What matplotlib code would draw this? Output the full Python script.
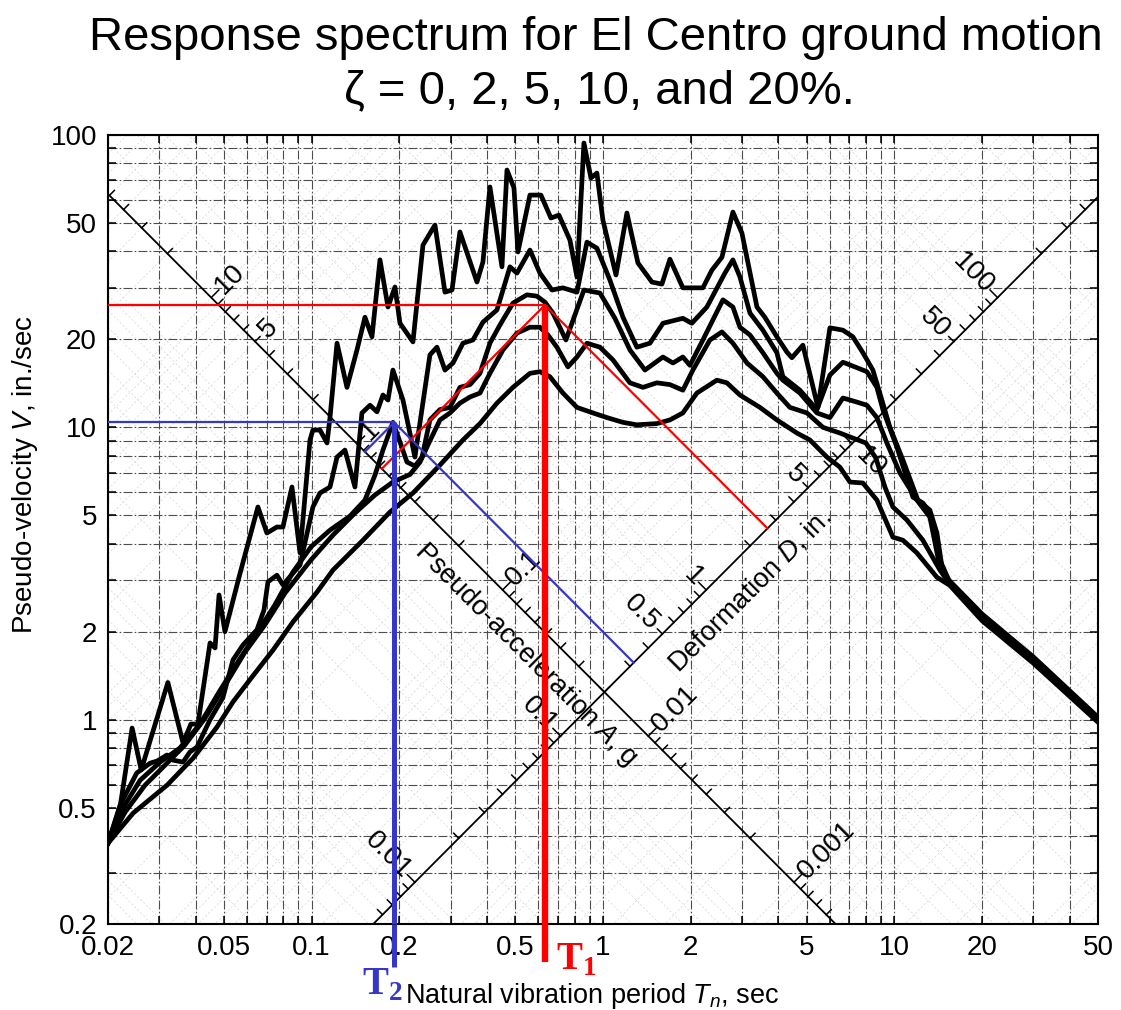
import numpy as np
import matplotlib
matplotlib.use("Agg")
import matplotlib.pyplot as plt
from matplotlib.ticker import FixedLocator, FixedFormatter, NullFormatter
from matplotlib.transforms import blended_transform_factory

plt.rcParams['font.family'] = ['Liberation Sans', 'DejaVu Sans']
plt.rcParams['mathtext.fontset'] = 'custom'
plt.rcParams['mathtext.rm'] = 'Liberation Sans'
plt.rcParams['mathtext.it'] = 'Liberation Sans:italic'
plt.rcParams['mathtext.bf'] = 'Liberation Serif:bold'

G = 386.1  # in./sec^2

# El Centro spectra: period (s) and pseudo-velocity (in./sec)
T_z0 = [0.020, 0.022, 0.0242, 0.026, 0.0321, 0.0362, 0.0385, 0.0407, 0.0448, 0.0466,
        0.0481, 0.0504, 0.0568, 0.0654, 0.0702, 0.076, 0.0797, 0.0856, 0.0912, 0.0987,
        0.101, 0.1068, 0.1129, 0.1156, 0.1222, 0.1322, 0.1431, 0.1524, 0.1611, 0.1716,
        0.1828, 0.1932, 0.201, 0.2227, 0.241, 0.265, 0.2868, 0.3032, 0.3228, 0.3693,
        0.3872, 0.4092, 0.45, 0.4682, 0.4948, 0.5106, 0.5614, 0.6122, 0.6626, 0.706,
        0.77, 0.814, 0.86, 0.909, 0.953, 0.999, 1.108, 1.208, 1.318, 1.472,
        1.593, 1.697, 1.88, 2.202, 2.365, 2.56, 2.792, 2.998, 3.376, 3.594,
        3.952, 4.276, 4.45, 4.854, 5.466, 6.01, 6.66, 7.206, 7.798, 8.44,
        9.06, 9.654, 10.7, 12.04, 13.24, 14.0, 14.68, 15.5, 20.0, 30.0, 50.0]
V_z0 = [0.378, 0.502, 0.936, 0.673, 1.34, 0.832, 0.966, 0.966, 1.83, 1.76,
        2.67, 2.00, 3.17, 5.34, 4.35, 4.56, 4.56, 6.25, 3.72, 9.05,
        9.79, 9.79, 8.84, 10.8, 19.4, 13.7, 18.4, 23.8, 20.4, 37.4,
        25.8, 30.2, 22.7, 19.6, 42.0, 49.2, 29.0, 29.5, 46.6, 31.4,
        36.8, 66.4, 35.4, 75.9, 65.9, 39.8, 62.3, 62.3, 52.0, 53.2,
        43.7, 32.7, 93.9, 71.3, 74.1, 51.2, 33.2, 54.1, 36.5, 31.4,
        30.9, 37.6, 30.0, 30.0, 34.5, 38.2, 54.5, 46.2, 25.8, 23.8,
        20.4, 18.1, 17.3, 19.1, 11.7, 21.9, 21.5, 20.4, 18.0, 15.7,
        12.4, 10.0, 7.73, 5.64, 5.21, 4.35, 3.17, 2.98, 2.30, 1.64, 1.02]

T_z2 = [0.020, 0.022, 0.0251, 0.0279, 0.0295, 0.0319, 0.0334, 0.0362, 0.0382, 0.0404,
        0.0448, 0.0496, 0.0537, 0.0581, 0.0649, 0.0686, 0.0708, 0.076, 0.0797, 0.0863,
        0.0912, 0.101, 0.1068, 0.1156, 0.1222, 0.1301, 0.1408, 0.1488, 0.1586, 0.1676,
        0.1757, 0.1828, 0.1901, 0.2058, 0.2262, 0.2547, 0.2692, 0.2868, 0.3056, 0.3306,
        0.3578, 0.3872, 0.4325, 0.4794, 0.5066, 0.5614, 0.6074, 0.6678, 0.7286, 0.814,
        0.8808, 0.9532, 1.056, 1.171, 1.307, 1.449, 1.606, 1.88, 2.018, 2.273,
        2.621, 2.792, 2.951, 3.194, 3.538, 3.952, 4.144, 4.74, 5.424, 6.01,
        6.66, 7.438, 8.05, 8.71, 9.134, 10.2, 11.58, 12.53, 13.24, 14.33,
        15.5, 20.0, 30.0, 50.0]
V_z2 = [0.378, 0.510, 0.657, 0.710, 0.722, 0.757, 0.727, 0.716, 0.775, 0.806,
        1.00, 1.19, 1.60, 1.80, 2.03, 2.37, 2.96, 3.12, 2.89, 3.17,
        3.38, 5.34, 5.96, 6.25, 7.91, 8.36, 6.25, 11.2, 11.9, 11.3,
        12.9, 12.4, 15.7, 12.4, 7.91, 17.7, 18.8, 15.7, 16.6, 19.4,
        19.9, 22.9, 25.2, 35.4, 33.7, 40.4, 33.7, 29.5, 30.0, 29.0,
        43.0, 41.0, 31.9, 23.8, 18.8, 19.4, 22.7, 23.6, 22.7, 25.8,
        33.7, 37.4, 32.7, 24.6, 21.5, 18.0, 14.9, 13.4, 11.5, 15.1,
        16.7, 16.0, 15.5, 13.7, 11.5, 8.56, 5.77, 5.51, 5.09, 3.52,
        2.95, 2.27, 1.62, 1.01]

T_z5 = [0.020, 0.0225, 0.0258, 0.0302, 0.0353, 0.0414, 0.0485, 0.0568, 0.0654, 0.0748,
        0.0863, 0.0995, 0.1156, 0.1354, 0.1524, 0.165, 0.1757, 0.1901, 0.201, 0.2124,
        0.2262, 0.2392, 0.2547, 0.2757, 0.2984, 0.3228, 0.3495, 0.3782, 0.4092, 0.4429,
        0.4908, 0.5482, 0.5932, 0.632, 0.6732, 0.746, 0.86, 0.976, 1.099, 1.237,
        1.393, 1.606, 1.738, 1.88, 1.988, 2.202, 2.58, 2.792, 2.951, 3.194,
        3.538, 3.952, 4.144, 4.74, 5.424, 6.01, 6.66, 7.438, 8.05, 8.71,
        9.428, 10.45, 11.95, 13.24, 14.33, 15.5, 20.0, 30.0, 50.0]
V_z5 = [0.378, 0.498, 0.621, 0.716, 0.800, 0.966, 1.26, 1.62, 2.00, 2.47,
        3.20, 3.90, 4.45, 4.97, 5.64, 6.87, 8.36, 10.4, 8.91, 7.61,
        7.37, 7.91, 10.6, 11.5, 11.7, 13.7, 14.0, 15.3, 19.4, 22.4,
        26.6, 28.4, 28.1, 26.8, 24.6, 19.9, 29.5, 28.8, 23.6, 18.4,
        15.7, 17.4, 16.6, 17.4, 16.3, 19.9, 27.3, 25.8, 22.0, 20.7,
        18.0, 15.3, 14.5, 13.1, 11.2, 10.8, 12.6, 12.2, 11.9, 10.8,
        8.84, 6.98, 5.64, 4.93, 3.33, 2.93, 2.24, 1.60, 1.00]

T_z10 = [0.020, 0.0229, 0.0268, 0.0314, 0.0367, 0.043, 0.0504, 0.059, 0.0691, 0.081,
         0.0995, 0.1184, 0.1408, 0.165, 0.1901, 0.2175, 0.2354, 0.2547, 0.2757, 0.2984,
         0.3228, 0.3495, 0.3782, 0.4092, 0.4536, 0.5066, 0.5614, 0.6074, 0.6472, 0.6948,
         0.758, 0.814, 0.881, 0.976, 1.082, 1.237, 1.371, 1.531, 1.697, 1.88,
         2.035, 2.328, 2.56, 2.792, 3.12, 3.538, 3.952, 4.38, 5.012, 5.686,
         6.502, 7.206, 7.986, 8.642, 9.28, 9.886, 11.04, 12.53, 14.33, 15.5,
         20.0, 30.0, 50.0]
V_z10 = [0.378, 0.483, 0.597, 0.699, 0.818, 1.01, 1.31, 1.70, 2.11, 2.71,
         3.52, 4.28, 5.09, 5.87, 6.50, 6.90, 7.60, 9.00, 10.6, 11.2,
         12.1, 12.7, 13.1, 15.3, 18.4, 21.0, 22.0, 22.0, 20.7, 18.8,
         16.1, 17.4, 19.4, 18.8, 17.0, 14.2, 13.7, 14.2, 14.0, 13.4,
         15.7, 19.9, 21.2, 19.4, 16.6, 14.9, 13.1, 11.7, 11.2, 10.0,
         9.56, 9.19, 8.84, 7.85, 6.25, 5.34, 4.82, 4.11, 3.25, 2.91,
         2.21, 1.58, 0.99]

T_z20 = [0.020, 0.0244, 0.0319, 0.0392, 0.0473, 0.0537, 0.0614, 0.0737, 0.0863, 0.1043,
         0.1184, 0.150, 0.1857, 0.2227, 0.2757, 0.3306, 0.3782, 0.4325, 0.4908, 0.5614,
         0.6074, 0.6574, 0.7286, 0.814, 0.924, 1.031, 1.171, 1.307, 1.531, 1.697,
         1.88, 2.10, 2.46, 2.662, 2.951, 3.456, 3.952, 4.63, 5.132, 5.868,
         6.502, 7.038, 7.798, 8.71, 9.886, 10.7, 11.95, 14.0, 15.5, 20.0,
         30.0, 50.0]
V_z20 = [0.378, 0.479, 0.597, 0.739, 0.943, 1.15, 1.37, 1.73, 2.16, 2.73,
         3.25, 4.11, 5.13, 5.96, 7.43, 9.05, 10.3, 12.1, 13.7, 15.3,
         15.5, 14.9, 13.1, 11.7, 11.2, 10.8, 10.4, 10.2, 10.3, 10.6,
         11.2, 13.1, 14.5, 14.2, 12.9, 11.7, 10.6, 9.56, 9.05, 7.91,
         7.31, 6.50, 6.45, 5.64, 4.21, 4.11, 3.72, 3.07, 2.88, 2.18,
         1.56, 0.98]

# the two marked periods and their pseudo-velocities
T1, V1 = 0.632, 26.2
T2, V2 = 0.192, 10.4

# the two diagonal scale lines
A_LINE_D = 0.2    # in.  (constant-D line carrying the acceleration scale)
D_LINE_A = 0.02   # g    (constant-A line carrying the deformation scale)

x_major = [0.02, 0.05, 0.1, 0.2, 0.5, 1, 2, 5, 10, 20, 50]
x_labels = ['0.02', '0.05', '0.1', '0.2', '0.5', '1', '2', '5', '10', '20', '50']
y_major = [0.2, 0.5, 1, 2, 5, 10, 20, 50, 100]
y_labels = ['0.2', '0.5', '1', '2', '5', '10', '20', '50', '100']

a_label_vals = [10, 5, 1, 0.1, 0.01, 0.001]
a_label_txt = ['10', '5', '1', '0.1', '0.01', '0.001']
d_label_vals = [0.01, 0.1, 0.5, 1, 5, 10, 50, 100]
d_label_txt = ['0.01', '0.1', '0.5', '1', '5', '10', '50', '100']

RED = '#ff0000'
BLUE = '#3636c8'

fig = plt.figure(figsize=(11.21, 10.10), dpi=100)
ax = fig.add_axes([108 / 1121, 86 / 1010, 990 / 1121, 789 / 1010])
ax.set_xscale('log')
ax.set_yscale('log')

xmin, xmax, ymin, ymax = 0.02, 50, 0.2, 100

# ticks & rectangular grid
def decade_minors(lo, hi, majors):
    vals = []
    for k in range(-3, 3):
        for n in range(1, 10):
            v = round(n * 10.0 ** k, 6)
            if lo <= v <= hi and v not in majors:
                vals.append(v)
    return vals

ax.xaxis.set_major_locator(FixedLocator(x_major))
ax.xaxis.set_major_formatter(FixedFormatter(x_labels))
ax.xaxis.set_minor_locator(FixedLocator(decade_minors(xmin, xmax, x_major)))
ax.xaxis.set_minor_formatter(NullFormatter())
ax.yaxis.set_major_locator(FixedLocator(y_major))
ax.yaxis.set_major_formatter(FixedFormatter(y_labels))
ax.yaxis.set_minor_locator(FixedLocator(decade_minors(ymin, ymax, y_major)))
ax.yaxis.set_minor_formatter(NullFormatter())
ax.tick_params(which='both', direction='in', top=True, right=True,
               length=6, width=1.1, labelsize=20, pad=8)
ax.grid(True, which='both', color='0.3', linestyle=(0, (8, 2, 1.5, 2)), linewidth=0.8)
for s in ax.spines.values():
    s.set_linewidth(1.5)

# faint diagonal grid
T_ends = np.array([xmin, xmax])
for k in range(-5, 4):
    for n in range(1, 10):
        val = n * 10.0 ** k
        ax.plot(T_ends, 2 * np.pi * val / T_ends, color='0.84', lw=0.5,
                ls=(0, (3, 3)), zorder=0.8)
        ax.plot(T_ends, val * G * T_ends / (2 * np.pi), color='0.84', lw=0.5,
                ls=(0, (3, 3)), zorder=0.8)

# acceleration scale along the constant-D line
ax.plot(T_ends, 2 * np.pi * A_LINE_D / T_ends, color='black', lw=1.3, zorder=3)
for k in range(-5, 3):
    for n in range(1, 10):
        A = n * 10.0 ** k
        v = np.sqrt(A * G * A_LINE_D)
        t = 2 * np.pi * A_LINE_D / v
        if xmin <= t <= xmax and ymin <= v <= ymax:
            f = 10 ** (0.026 if n == 1 else 0.017)
            ax.plot([t, t * f], [v, v * f], color='black', lw=1.1, zorder=3)
for A, txt in zip(a_label_vals, a_label_txt):
    v = np.sqrt(A * G * A_LINE_D)
    t = 2 * np.pi * A_LINE_D / v
    ax.annotate(txt, xy=(t, v), xytext=(5.5, 5.5), textcoords='offset points',
                rotation=45, rotation_mode='anchor', ha='left', va='center',
                fontsize=20, zorder=3)

# deformation scale along the constant-A line
ax.plot(T_ends, D_LINE_A * G * T_ends / (2 * np.pi), color='black', lw=1.3, zorder=3)
for k in range(-4, 4):
    for n in range(1, 10):
        D = n * 10.0 ** k
        v = np.sqrt(D_LINE_A * G * D)
        t = 2 * np.pi * D / v
        if xmin <= t <= xmax and ymin <= v <= ymax:
            f = 10 ** (0.026 if n == 1 else 0.017)
            ax.plot([t, t / f], [v, v * f], color='black', lw=1.1, zorder=3)
for D, txt in zip(d_label_vals, d_label_txt):
    v = np.sqrt(D_LINE_A * G * D)
    t = 2 * np.pi * D / v
    if txt == '10':
        ax.annotate(txt, xy=(t, v), xytext=(5.5, -5.5), textcoords='offset points',
                    rotation=-45, rotation_mode='anchor', ha='left', va='center',
                    fontsize=20, zorder=3)
    else:
        ax.annotate(txt, xy=(t, v), xytext=(-5.5, 5.5), textcoords='offset points',
                    rotation=-45, rotation_mode='anchor', ha='right', va='center',
                    fontsize=20, zorder=3)

# titles of the diagonal scales
v = np.sqrt(0.05 * G * A_LINE_D)
ax.annotate('Pseudo-acceleration $A$, g', xy=(2 * np.pi * A_LINE_D / v, v),
            xytext=(-15, -15), textcoords='offset points', rotation=-45,
            rotation_mode='anchor', ha='center', va='center', fontsize=19.5, zorder=3)
v = np.sqrt(D_LINE_A * G * 1.4)
ax.annotate('Deformation $D$, in.', xy=(2 * np.pi * 1.4 / v, v),
            xytext=(16, -16), textcoords='offset points', rotation=45,
            rotation_mode='anchor', ha='center', va='center', fontsize=19.5, zorder=3)

# spectra
for T, V in [(T_z0, V_z0), (T_z2, V_z2), (T_z5, V_z5), (T_z10, V_z10), (T_z20, V_z20)]:
    ax.plot(T, V, color='black', lw=3.4, solid_joinstyle='round', zorder=4)

# read-off lines for T1 (red) and T2 (blue)
below = blended_transform_factory(ax.transData, ax.transAxes)
for Tp, Vp, col, lw_v, drop in [(T1, V1, RED, 4.6, -0.048), (T2, V2, BLUE, 3.6, -0.054)]:
    ax.plot([xmin, Tp], [Vp, Vp], color=col, lw=1.6, zorder=5)
    ax.plot([Tp, Tp], [Vp, ymin], color=col, lw=lw_v, solid_capstyle='butt', zorder=6)
    ax.plot([Tp, Tp], [0, drop], color=col, lw=lw_v, solid_capstyle='butt',
            transform=below, clip_on=False, zorder=6)
    # constant A down to the acceleration scale
    A_p = 2 * np.pi * Vp / (Tp * G)
    va_ = np.sqrt(A_p * G * A_LINE_D)
    ax.plot([Tp, 2 * np.pi * A_LINE_D / va_], [Vp, va_], color=col, lw=1.6, zorder=5)
    # constant D down to the deformation scale
    D_p = Vp * Tp / (2 * np.pi)
    vd_ = np.sqrt(D_LINE_A * G * D_p)
    ax.plot([Tp, 2 * np.pi * D_p / vd_], [Vp, vd_], color=col, lw=1.6, zorder=5)

ax.set_xlim(xmin, xmax)
ax.set_ylim(ymin, ymax)

fig.text(0.532, 1 - 50 / 1010, 'Response spectrum for El Centro ground motion',
         ha='center', va='baseline', fontsize=34)
fig.text(0.535, 1 - 103 / 1010, 'ζ = 0, 2, 5, 10, and 20%.',
         ha='center', va='baseline', fontsize=34)
fig.text(0.0223, 0.53, 'Pseudo-velocity $V$, in./sec', rotation=90,
         ha='center', va='center', fontsize=20)
fig.text(405 / 1121, 1 - 1003 / 1010, 'Natural vibration period $T_n$, sec',
         ha='left', va='baseline', fontsize=19.5)
fig.text(362 / 1121, 1 - 995 / 1010, r'$\mathbf{T}_{\mathbf{2}}$', color=BLUE,
         ha='left', va='baseline', fontsize=28)
fig.text(556 / 1121, 1 - 970 / 1010, r'$\mathbf{T}_{\mathbf{1}}$', color=RED,
         ha='left', va='baseline', fontsize=28)

fig.savefig('out.png', dpi=100)
